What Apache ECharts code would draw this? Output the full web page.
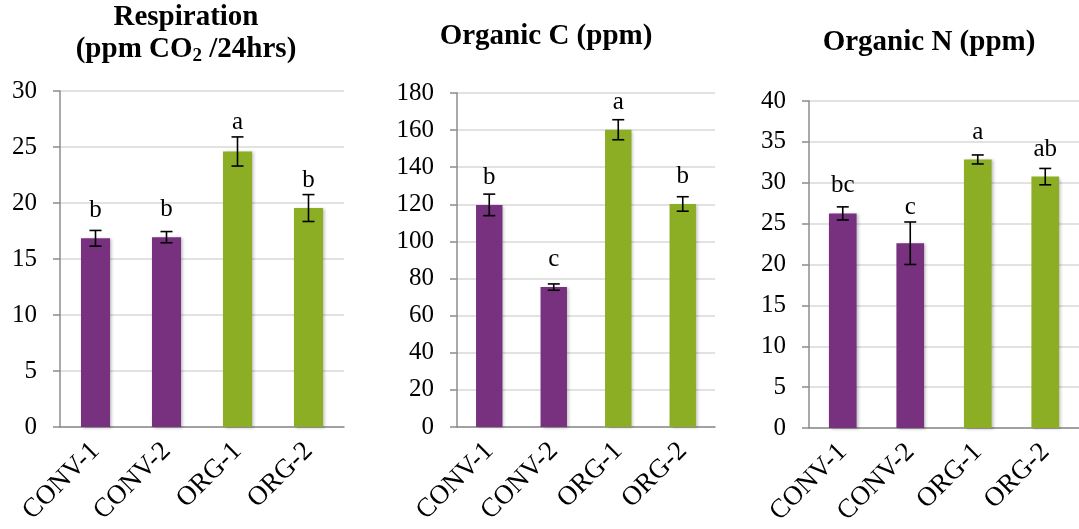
<!DOCTYPE html>
<html>
<head>
<meta charset="utf-8">
<script src="https://cdn.jsdelivr.net/npm/echarts@6/dist/echarts.min.js"></script>
<style>
	html, body { margin: 0; padding: 0; background: #fff; }
	#echart { width: 1079px; height: 529px; }
</style>
</head>
<body>
<div id="echart"></div>
<script>
'use strict'

var categories = ['CONV-1', 'CONV-2', 'ORG-1', 'ORG-2'];

var respValues = [16.85, 16.95, 24.6, 19.55];
var respErrors = [0.7, 0.5, 1.3, 1.2];
var respLetters = ['b', 'b', 'a', 'b'];

var carbonValues = [119.7, 75.4, 160.2, 120.2];
var carbonErrors = [5.8, 1.7, 5.4, 3.9];
var carbonLetters = ['b', 'c', 'a', 'b'];

var nitroValues = [26.25, 22.6, 32.85, 30.75];
var nitroErrors = [0.8, 2.6, 0.55, 1.0];
var nitroLetters = ['bc', 'c', 'a', 'ab'];

var yTicks = [[0, 30, 5], [0, 180, 20], [0, 40, 5]];

var purple = '#77317e';
var green = '#8cae24';
var serif = '"Liberation Serif", "DejaVu Serif", serif';

var panels = [
	{ values: respValues, errors: respErrors, letters: respLetters },
	{ values: carbonValues, errors: carbonErrors, letters: carbonLetters },
	{ values: nitroValues, errors: nitroErrors, letters: nitroLetters }
];

/*-----grids & axes-----*/
var grids = [
	{ left: 60, top: 91, width: 284, height: 336 },
	{ left: 457, top: 93, width: 258, height: 334 },
	{ left: 809, top: 101, width: 277, height: 327 }
];

var xAxes = [], yAxes = [], series = [];

panels.forEach(function(p, i) {
	xAxes.push({
		type: 'category',
		gridIndex: i,
		data: categories,
		axisLine: { lineStyle: { color: '#8c8c8c', width: 1.5 } },
		axisTick: { length: 7, lineStyle: { color: '#8c8c8c', width: 1.5 } },
		axisLabel: {
			rotate: 45,
			margin: 20,
			fontFamily: serif,
			fontSize: 27,
			color: '#000',
			interval: 0
		}
	});
	yAxes.push({
		type: 'value',
		gridIndex: i,
		min: yTicks[i][0],
		max: yTicks[i][1],
		interval: yTicks[i][2],
		axisLine: { show: true, lineStyle: { color: '#8c8c8c', width: 1.5 } },
		axisTick: { show: true, length: 7, lineStyle: { color: '#8c8c8c', width: 1.5 } },
		splitLine: { lineStyle: { color: '#d9d9d9', width: 1.5 } },
		axisLabel: {
			margin: 23,
			fontFamily: serif,
			fontSize: 25,
			color: '#000'
		}
	});

	series.push({
		type: 'bar',
		xAxisIndex: i,
		yAxisIndex: i,
		barWidth: '41%',
		data: p.values.map(function(v, k) {
			return {
				value: v,
				itemStyle: { color: k < 2 ? purple : green }
			};
		}),
		itemStyle: {
			shadowBlur: 3,
			shadowOffsetX: 2,
			shadowOffsetY: 1,
			shadowColor: 'rgba(0,0,0,0.25)'
		},
		z: 2
	});

	/*-----error bars + letters-----*/
	series.push({
		type: 'custom',
		xAxisIndex: i,
		yAxisIndex: i,
		data: p.values.map(function(v, k) { return [k, v, p.errors[k]]; }),
		renderItem: function(params, api) {
			var k = api.value(0);
			var v = api.value(1);
			var e = api.value(2);
			var top = api.coord([k, v + e]);
			var bot = api.coord([k, v - e]);
			var barTop = api.coord([k, v]);
			var cap = 6;
			var ly = Math.min(barTop[1] - 15, top[1] - 2);
			var style = { stroke: '#000', lineWidth: 1.6 };
			return {
				type: 'group',
				children: [
					{ type: 'line', shape: { x1: top[0], y1: top[1], x2: bot[0], y2: bot[1] }, style: style },
					{ type: 'line', shape: { x1: top[0] - cap, y1: top[1], x2: top[0] + cap, y2: top[1] }, style: style },
					{ type: 'line', shape: { x1: bot[0] - cap, y1: bot[1], x2: bot[0] + cap, y2: bot[1] }, style: style },
					{
						type: 'text',
						x: top[0],
						y: ly,
						style: {
							text: p.letters[k],
							font: '25px ' + serif,
							fill: '#000',
							align: 'center',
							verticalAlign: 'bottom'
						}
					}
				]
			};
		},
		z: 3
	});
});

/*-----titles-----*/
var chart = document.getElementById('echart');
var barChart = echarts.init(chart);
var option = {
	animation: false,
	graphic: [{
		type: 'text',
		x: 186,
		y: 2,
		style: {
			text: 'Respiration\n(ppm CO{sub|2} /24hrs)',
			font: 'bold 29px ' + serif,
			fill: '#000',
			align: 'center',
			lineHeight: 32,
			rich: {
				sub: { fontFamily: serif, fontWeight: 'bold', fontSize: 19, verticalAlign: 'bottom', padding: [14, 0, 0, 0] }
			}
		}
	}, {
		type: 'text',
		x: 546,
		y: 22,
		style: {
			text: 'Organic C (ppm)',
			font: 'bold 29px ' + serif,
			fill: '#000',
			align: 'center'
		}
	}, {
		type: 'text',
		x: 929,
		y: 28,
		style: {
			text: 'Organic N (ppm)',
			font: 'bold 29px ' + serif,
			fill: '#000',
			align: 'center'
		}
	}],
	grid: grids,
	xAxis: xAxes,
	yAxis: yAxes,
	series: series
};
barChart.setOption(option);
</script>
</body>
</html>
